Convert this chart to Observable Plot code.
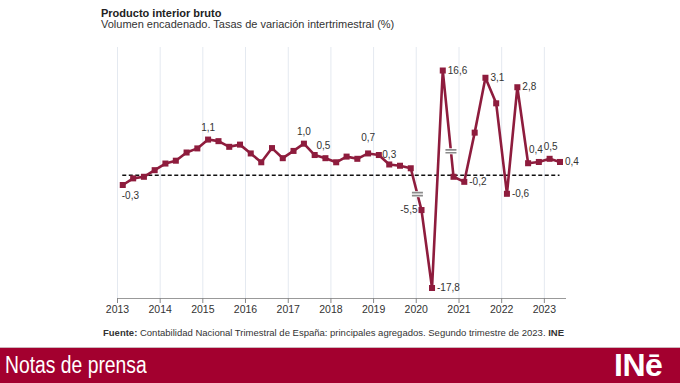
<!DOCTYPE html>
<html><head><meta charset="utf-8">
<script src="https://cdn.jsdelivr.net/npm/d3@7"></script>
<script src="https://cdn.jsdelivr.net/npm/@observablehq/plot@0.6"></script>
<style>
body{margin:0;width:680px;height:383px;overflow:hidden;background:#fff;font-family:"Liberation Sans",Arial,sans-serif;position:relative}
#title{position:absolute;left:101px;top:7px;font-size:11px;line-height:13px;font-weight:bold;color:#222;white-space:nowrap}
#subtitle{position:absolute;left:101px;top:18px;font-size:11px;line-height:13px;color:#333;white-space:nowrap}
#chart{position:absolute;left:0;top:40px}
#source{position:absolute;left:103px;top:327px;font-size:9.5px;line-height:12px;color:#333;white-space:nowrap}
#banner{position:absolute;left:0;top:347px;width:680px;height:36px;background:#a3002f;border-top:1px solid #cdb6bc}
#banner .nota{position:absolute;left:5px;top:4px;font-family:"Liberation Sans Narrow","Liberation Sans",sans-serif;font-size:23px;line-height:26px;color:#fff;white-space:nowrap;transform:scaleX(0.84);transform-origin:0 0}
#banner .logo{position:absolute;left:614px;top:0px;font-size:32px;line-height:34px;font-weight:bold;color:#fff;white-space:nowrap;letter-spacing:-0.5px}
</style></head>
<body>
<div id="title">Producto interior bruto</div>
<div id="subtitle">Volumen encadenado. Tasas de variación intertrimestral (%)</div>
<div id="chart"></div>
<div id="source"><b>Fuente:</b> Contabilidad Nacional Trimestral de España: principales agregados. Segundo trimestre de 2023. <b>INE</b></div>
<div id="banner"><div class="nota">Notas de prensa</div><div class="logo">INē</div></div>
<script>
// Data: quarterly GDP growth (%), 2013T1 .. 2023T2
const startYear = 2013;
const gdp = [
  -0.31, -0.10, -0.05, 0.16,
  0.37, 0.46, 0.72, 0.85,
  1.13, 1.08, 0.90, 0.97,
  0.69, 0.41, 0.86, 0.54,
  0.77, 1.00, 0.64, 0.54,
  0.41, 0.59, 0.52, 0.69,
  0.64, 0.34, 0.30, 0.22,
  -5.5, -17.8, 16.6, -0.05,
  -0.21, 1.35, 3.09, 2.28,
  -0.59, 2.79, 0.38, 0.42,
  0.52, 0.42
];
const yearTicks = [2013, 2014, 2015, 2016, 2017, 2018, 2019, 2020, 2021, 2022, 2023];
const labelsAbove = ["2015T1", "2017T2", "2017T4", "2018T4", "2019T2", "2022T4", "2023T1"];
const labelsRight = ["2020T2", "2020T3", "2021T1", "2021T3", "2022T1", "2022T2", "2023T2"];
const labelsLeft = ["2020T1"];
const labelsBelow = ["2013T1"];
// scale-break markers: segment start quarter and fraction along the segment
const breakMarks = [{from: "2019T4", t: 0.62}, {from: "2020T3", t: 0.76}];

// label nudges (pixels) to avoid collisions, as in the original
const nudgeX = {"2022T4": -3, "2023T1": 1, "2017T4": -2};
const nudgeY = {"2018T4": -16, "2019T2": -10};

const RED = "#8e1c3d";
const rows = gdp.map((v, i) => ({
  q: `${startYear + Math.floor(i / 4)}T${(i % 4) + 1}`,
  date: new Date(Date.UTC(startYear + Math.floor(i / 4), (i % 4) * 3 + 1, 15)),
  v
}));
// broken axis: compress the extreme pandemic values
const brk = v => v < -1 ? -1.105 + 0.201 * (v + 5.5) : v > 5 ? 3.32 + 0.2 * (v - 16.6) : v;
const fmt = v => v.toFixed(1).replace(".", ",");
const pick = keys => rows.filter(d => keys.includes(d.q));
const breaks = breakMarks.map(b => {
  const i = rows.findIndex(d => d.q === b.from);
  const a = rows[i], c = rows[i + 1];
  return {
    date: new Date(+a.date + b.t * (c.date - a.date)),
    y: brk(a.v) + b.t * (brk(c.v) - brk(a.v))
  };
});
const breakBg = {draw(c) { c.rect(-6.5, -3, 13, 6); }};
const breakFg = {draw(c) { c.rect(-5.5, -2.3, 11, 1.7); c.rect(-5.5, 0.6, 11, 1.7); }};
const ticks = yearTicks.map(y => new Date(Date.UTC(y, 0, 1)));
const first = rows[0].date, last = rows[rows.length - 1].date;
const textStyle = {fill: "#333", fontSize: 10};

const aboveMarks = pick(labelsAbove).map(d =>
  Plot.text([d], {x: "date", y: "v", text: d => fmt(d.v),
    dx: nudgeX[d.q] || 0, dy: nudgeY[d.q] || -12, ...textStyle}));

const chart = Plot.plot({
  width: 680, height: 282,
  marginLeft: 117, marginRight: 115, marginTop: 7, marginBottom: 24,
  style: {fontFamily: '"Liberation Sans", Arial, sans-serif', fontSize: "10px", color: "#333", background: "transparent"},
  x: {type: "utc", domain: [new Date(Date.UTC(2013, 0, 1)), new Date(Date.UTC(2023, 6, 1))]},
  y: {type: "linear", transform: brk, domain: [-3.91, 4.05], axis: null},
  marks: [
    Plot.gridX(ticks, {stroke: "#e4e9f0", strokeOpacity: 1}),
    Plot.frame({anchor: "bottom", stroke: "#999"}),
    Plot.axisX(ticks, {tickFormat: "%Y", tickSize: 5, tickPadding: 2, stroke: "#888", fill: "#333", fontSize: 10.5, label: null}),
    Plot.ruleY([0], {x1: first, x2: last, stroke: "#111", strokeWidth: 1.4, strokeDasharray: "4,2.5"}),
    Plot.line(rows, {x: "date", y: "v", stroke: RED, strokeWidth: 2.6}),
    Plot.dot(rows, {x: "date", y: "v", symbol: "square", r: 3.4, fill: RED}),
    Plot.dot(breaks, {x: "date", y: "y", symbol: breakBg, fill: "#fff"}),
    Plot.dot(breaks, {x: "date", y: "y", symbol: breakFg, fill: "#8a8a8a"}),
    ...aboveMarks,
    Plot.text(pick(labelsRight), {x: "date", y: "v", text: d => fmt(d.v), dx: 5, textAnchor: "start", ...textStyle}),
    Plot.text(pick(labelsLeft), {x: "date", y: "v", text: d => fmt(d.v), dx: -4, textAnchor: "end", ...textStyle}),
    Plot.text(pick(labelsBelow), {x: "date", y: "v", text: d => fmt(d.v), dy: 11, dx: -1, textAnchor: "start", ...textStyle})
  ]
});
document.getElementById("chart").append(chart);
</script>
</body></html>
